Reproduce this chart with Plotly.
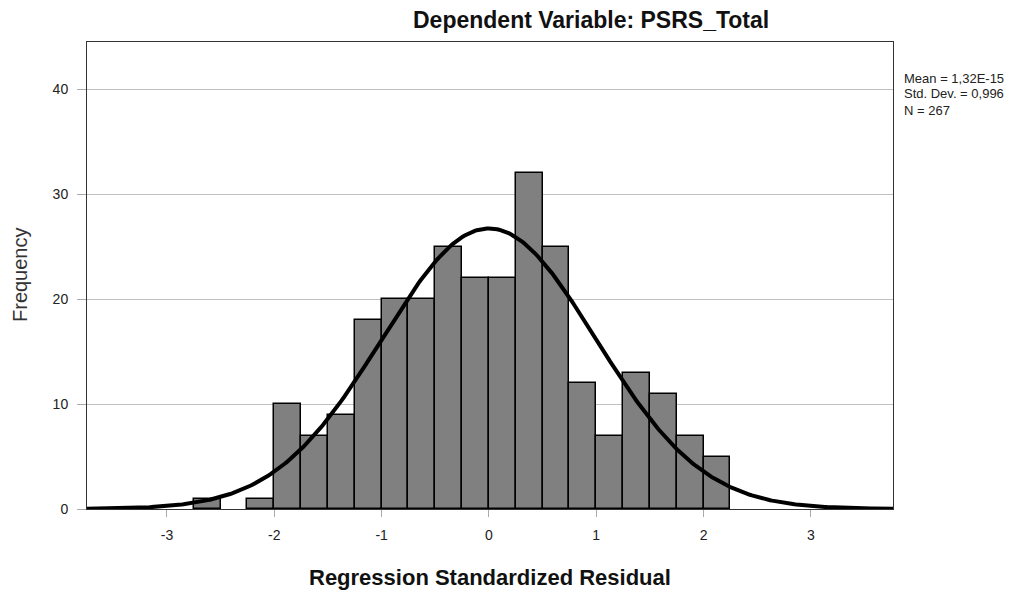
import numpy as np
import plotly.graph_objects as go

# Histogram bins (left edges) and frequencies
bin_left = [-2.75, -2.25, -2.0, -1.75, -1.5, -1.25, -1.0, -0.75, -0.5, -0.25,
            0.0, 0.25, 0.5, 0.75, 1.0, 1.25, 1.5, 1.75, 2.0]
freq = [1, 1, 10, 7, 9, 18, 20, 20, 25, 22, 22, 32, 25, 12, 7, 13, 11, 7, 5]
bin_width = 0.25

# Stated statistics
mean_val = 1.32e-15
sd_val = 0.996
n_val = 267

x_ticks = [-3, -2, -1, 0, 1, 2, 3]
y_ticks = [0, 10, 20, 30, 40]

centers = [b + bin_width / 2 for b in bin_left]

xs = np.linspace(-3.75, 3.77, 400)
curve = n_val * bin_width * np.exp(-0.5 * ((xs - mean_val) / sd_val) ** 2) / (sd_val * np.sqrt(2 * np.pi))

fig = go.Figure()
fig.add_trace(go.Bar(
    x=centers, y=freq, width=bin_width,
    marker=dict(color="#808080", line=dict(color="black", width=1.5)),
    hoverinfo="x+y", showlegend=False,
))
fig.add_trace(go.Scatter(
    x=xs, y=curve, mode="lines",
    line=dict(color="black", width=4), showlegend=False, hoverinfo="skip",
))

font_family = "Liberation Sans, Arial, sans-serif"

# page offset of the figure (browser body margin)
OFF = 8
W, H = 1024 - OFF, 592 - OFF
L, R, T, B = 87 - OFF, 893 - OFF, 42 - OFF, 509 - OFF

fig.update_layout(
    width=W, height=H,
    margin=dict(l=L, r=W - R, t=T, b=H - B, autoexpand=False),
    paper_bgcolor="white", plot_bgcolor="white",
    font=dict(family=font_family, color="#222222", size=14),
    bargap=0,
    xaxis=dict(
        range=[-3.745, 3.765], tickvals=x_ticks, ticktext=[str(v) for v in x_ticks],
        showgrid=False, zeroline=False, automargin=False,
        showline=True, linecolor="#333333", linewidth=1, mirror=True,
        ticks="outside", ticklen=7, tickcolor="#aaaaaa", tickwidth=1,
        ticklabelstandoff=6,
        tickfont=dict(size=14, color="#222222"),
    ),
    yaxis=dict(
        range=[0, 44.5], tickvals=y_ticks, ticktext=[str(v) for v in y_ticks],
        showgrid=True, gridcolor="#c0c0c0", gridwidth=1, zeroline=False, automargin=False,
        showline=True, linecolor="#333333", linewidth=1, mirror=True,
        ticks="outside", ticklen=9, tickcolor="#aaaaaa", tickwidth=1,
        ticklabelstandoff=6,
        tickfont=dict(size=14, color="#222222"),
    ),
)


def px(xpage):
    return (xpage - OFF - L) / (R - L)


def py(ypage):
    return (B - (ypage - OFF)) / (B - T)


ann = [
    dict(text="<b>Dependent Variable: PSRS_Total</b>", x=591, y=20, size=23, color="#111111"),
    dict(text="<b>Regression Standardized Residual</b>", x=490, y=577, size=22, color="#111111"),
]
for a in ann:
    fig.add_annotation(text=a["text"], xref="paper", yref="paper",
                       x=px(a["x"]), y=py(a["y"]),
                       xanchor="center", yanchor="middle", showarrow=False,
                       font=dict(size=a["size"], color=a["color"]))

fig.add_annotation(text="Frequency", xref="paper", yref="paper",
                   x=px(20), y=py(275), textangle=-90,
                   xanchor="center", yanchor="middle", showarrow=False,
                   font=dict(size=20, color="#333333"))

stat_lines = ["Mean = 1,32E-15", "Std. Dev. = 0,996", f"N = {n_val}"]
stat_y = [78, 94, 110]
for txt, yy in zip(stat_lines, stat_y):
    fig.add_annotation(text=txt, xref="paper", yref="paper",
                       x=px(902), y=py(yy),
                       xanchor="left", yanchor="middle", showarrow=False,
                       font=dict(size=13, color="#222222"))

fig.write_html("out.html")
